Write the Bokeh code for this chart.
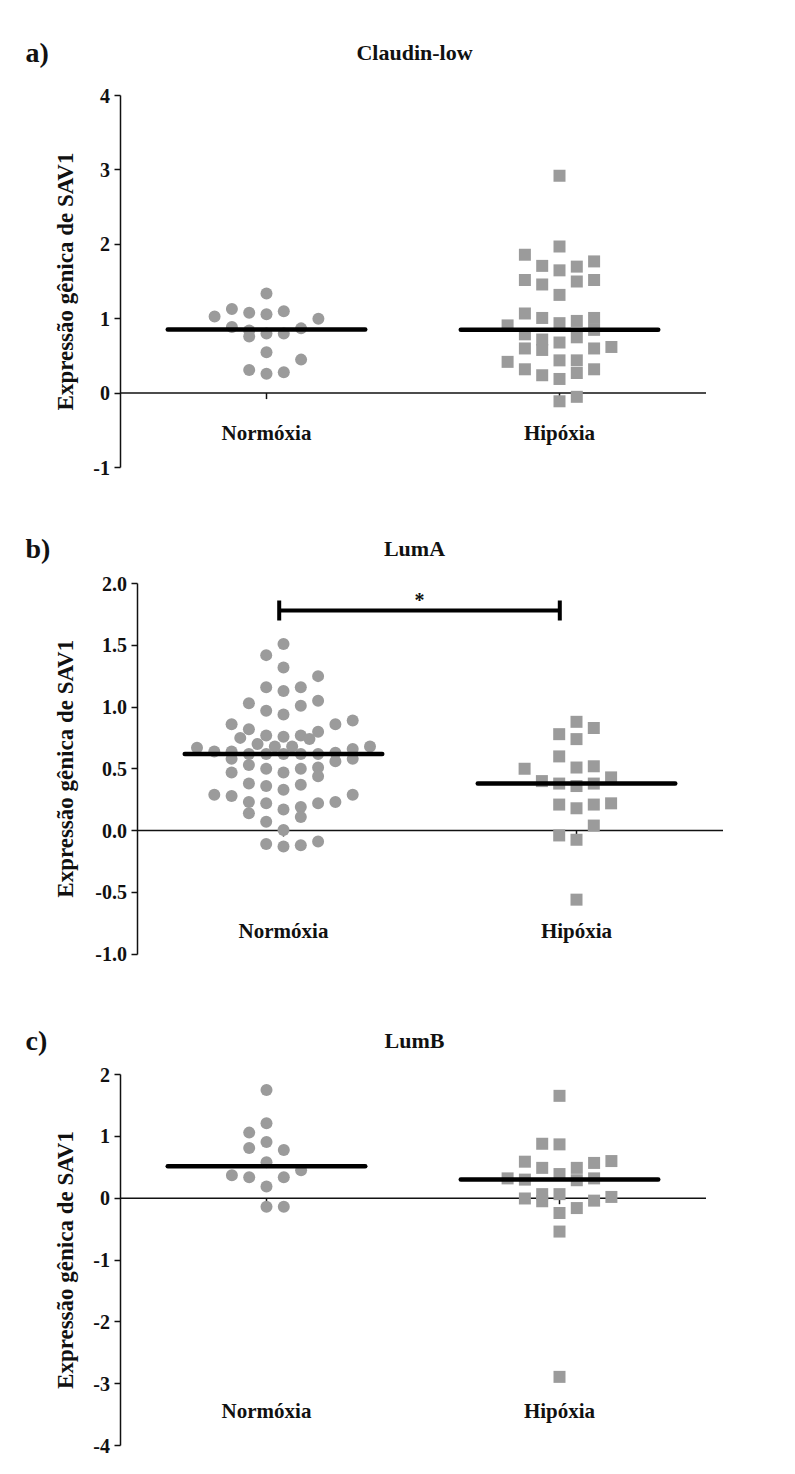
import numpy as np
from bokeh.plotting import figure
from bokeh.models import Range1d, FixedTicker, LinearAxis, NumeralTickFormatter
from bokeh.layouts import column
from bokeh.embed import file_html
from bokeh.resources import INLINE
from bokeh.core.properties import value

# ---------------- data ----------------
categories = ["Normóxia", "Hipóxia"]
y_label = "Expressão gênica de SAV1"

# a) Claudin-low
cl_norm = [1.34, 1.03, 1.13, 1.08, 1.06, 1.10, 1.00, 0.89, 0.84, 0.76, 0.80, 0.80,
           0.87, 0.55, 0.45, 0.31, 0.26, 0.28]
cl_norm_slot = [0, -3, -2, -1, 0, 1, 3, -2, -1, -1, 0, 1, 2, 0, 2, -1, 0, 1]
cl_hip = [2.92, 1.97, 1.86, 1.71, 1.65, 1.70, 1.77, 1.52, 1.46, 1.50, 1.52, 1.32,
          1.07, 1.01, 0.94, 0.97, 0.75, 1.01, 0.85, 0.91, 0.79, 0.72, 0.58, 0.68,
          0.60, 0.60, 0.62, 0.42, 0.32, 0.24, 0.44, 0.19, 0.44, 0.27, 0.32, -0.11, -0.05]
cl_hip_slot = [0, 0, -2, -1, 0, 1, 2, -2, -1, 1, 2, 0, -2, -1, 0, 1, 1, 2, 2, -3,
               -2, -1, -1, 0, -2, 2, 3, -3, -2, -1, 0, 0, 1, 1, 2, 0, 1]
cl_ticks = [-1, 0, 1, 2, 3, 4]

# b) LumA
la_norm = [1.51, 1.42, 1.32, 1.25, 1.16, 1.13, 1.16, 1.03, 1.05, 1.01, 0.97, 0.94,
           0.86, 0.82, 0.86, 0.89, 0.75, 0.77, 0.76, 0.77, 0.74, 0.80, 0.70, 0.68,
           0.68, 0.67, 0.64, 0.68, 0.66, 0.64, 0.62, 0.62, 0.62, 0.62, 0.62, 0.63,
           0.58, 0.56, 0.58, 0.53, 0.47, 0.50, 0.47, 0.50, 0.51, 0.44, 0.38, 0.36,
           0.33, 0.37, 0.29, 0.28, 0.29, 0.23, 0.22, 0.22, 0.23, 0.17, 0.19, 0.14,
           0.11, 0.07, 0.005, -0.11, -0.13, -0.12, -0.09]
la_norm_slot = [0, -1, 0, 2, -1, 0, 1, -2, 2, 1, -1, 0, -3, -2, 3, 4, -2.5, -1, 0, 1,
                1.5, 2, -1.5, -0.5, 0.5, -5, -4, 5, 4, -3, -2, -1, 0, 1, 2, 3, -3, 3,
                4, -2, -3, -1, 0, 1, 2, 2, -2, -1, 0, 1, -4, -3, 4, -2, -1, 2, 3, 0,
                1, -2, 1, -1, 0, -1, 0, 1, 2]
la_hip = [0.88, 0.83, 0.78, 0.74, 0.60, 0.50, 0.51, 0.52, 0.40, 0.38, 0.36, 0.38,
          0.43, 0.21, 0.18, 0.21, 0.22, 0.04, -0.04, -0.075, -0.56]
la_hip_slot = [0, 1, -1, 0, -1, -3, 0, 1, -2, -1, 0, 1, 2, -1, 0, 1, 2, 1, -1, 0, 0]
la_ticks = [-1.0, -0.5, 0.0, 0.5, 1.0, 1.5, 2.0]
la_signif = "*"

# c) LumB
lb_norm = [1.75, 1.21, 1.06, 0.91, 0.81, 0.78, 0.58, 0.45, 0.37, 0.34, 0.34, 0.19,
           -0.14, -0.14]
lb_norm_slot = [0, 0, -1, 0, -1, 1, 0, 2, -2, -1, 1, 0, 0, 1]
lb_hip = [1.655, 0.88, 0.87, 0.59, 0.49, 0.49, 0.57, 0.60, 0.39, 0.32, 0.30, 0.29,
          0.32, 0.065, -0.05, 0.065, -0.005, -0.04, 0.02, -0.16, -0.24, -0.54, -2.89]
lb_hip_slot = [0, -1, 0, -2, -1, 1, 2, 3, 0, -3, -2, 1, 2, -1, -1, 0, -2, 2, 3, 1,
               0, 0, 0]
lb_ticks = [-4, -3, -2, -1, 0, 1, 2]

# ---------------- styling ----------------
FONT = value("Liberation Serif")
INK = "#111111"
POINT_COLOR = "#9b9b9b"
PAGE_W = 795
PX_PER_X = 293.0          # pixels per category step
SLOT_W = 17.3 / PX_PER_X  # horizontal spacing of swarm columns
MED_HALF = 0.337          # half-length of the median bar
X_AXIS_LO, X_AXIS_HI = 0.5, 2.5


def text(p, x, y, s, size, **kw):
    p.text(x=[x], y=[y], text=[s], text_font=FONT, text_font_style="bold",
           text_font_size=size, text_color=INK,
           text_align=kw.pop("align", "center"), text_baseline="middle", **kw)


def panel(letter, title, norm, norm_slot, hip, hip_slot, ticks, fmt, page_top,
          height, axis_top, axis_bottom, center_px, cat_px, title_px):
    ymin, ymax = min(ticks), max(ticks)
    ppu = (axis_bottom - axis_top) / (ymax - ymin)
    x_lo = 1 - center_px / PX_PER_X
    y_hi = ymax + (axis_top - page_top) / ppu
    y_lo = ymax - (page_top + height - axis_top) / ppu

    def py(page_y):
        return ymax + (axis_top - page_y) / ppu

    def px(page_x):
        return x_lo + page_x / PX_PER_X

    p = figure(width=PAGE_W, height=height,
               x_range=Range1d(x_lo, x_lo + PAGE_W / PX_PER_X),
               y_range=Range1d(y_lo, y_hi),
               output_backend="svg", toolbar_location=None,
               x_axis_location=None, y_axis_location=None, min_border=0,
               background_fill_color="white", border_fill_color="white",
               outline_line_color=None)
    p.grid.visible = False

    ax = LinearAxis(fixed_location=X_AXIS_LO, bounds=(ymin, ymax),
                    ticker=FixedTicker(ticks=ticks),
                    formatter=NumeralTickFormatter(format=fmt))
    ax.minor_tick_line_color = None
    ax.major_tick_in = 0
    ax.major_tick_out = 6
    ax.axis_line_width = 1.5
    ax.major_tick_line_width = 1.5
    ax.axis_line_color = INK
    ax.major_tick_line_color = INK
    ax.major_label_text_font = "Liberation Serif"
    ax.major_label_text_font_style = "bold"
    ax.major_label_text_font_size = "20px"
    ax.major_label_text_color = INK
    ax.major_label_standoff = 4
    p.add_layout(ax, "left")

    # rotated axis title, centred on the axis
    text(p, px(65), (ymin + ymax) / 2, y_label, "23px", angle=np.pi / 2)

    # zero baseline with category ticks
    tick_len = 6 / ppu
    p.segment(x0=[X_AXIS_LO], y0=[0], x1=[X_AXIS_HI], y1=[0],
              line_color=INK, line_width=1.5)
    p.segment(x0=[1, 2], y0=[0, 0], x1=[1, 2], y1=[-tick_len, -tick_len],
              line_color=INK, line_width=1.5)

    # points
    xn = 1 + np.array(norm_slot) * SLOT_W
    xh = 2 + np.array(hip_slot) * SLOT_W
    p.scatter(xn, norm, marker="circle", size=12, fill_color=POINT_COLOR,
              line_color=None)
    p.scatter(xh, hip, marker="square", size=12, fill_color=POINT_COLOR,
              line_color=None)

    # medians
    meds = [float(np.median(norm)), float(np.median(hip))]
    p.segment(x0=[1 - MED_HALF, 2 - MED_HALF], y0=meds,
              x1=[1 + MED_HALF, 2 + MED_HALF], y1=meds,
              line_color="black", line_width=4.5, line_cap="round")

    # category names
    cy = py(cat_px)
    p.text(x=[1, 2], y=[cy, cy], text=categories, text_font=FONT,
           text_font_style="bold", text_font_size="21px", text_color=INK,
           text_align="center", text_baseline="middle")

    # panel letter and title
    ty = py(title_px)
    text(p, px(25), ty, letter, "28px", align="left")
    text(p, px(414), ty, title, "22px")
    return p, ppu, py, px


pa, _, _, _ = panel("a)", "Claudin-low", cl_norm, cl_norm_slot, cl_hip, cl_hip_slot,
                    cl_ticks, "0", page_top=0, height=490, axis_top=95,
                    axis_bottom=467, center_px=266, cat_px=432, title_px=52)
pb, ppu_b, py_b, px_b = panel("b)", "LumA", la_norm, la_norm_slot, la_hip, la_hip_slot,
                              la_ticks, "0.0", page_top=490, height=495,
                              axis_top=583, axis_bottom=953.5, center_px=283,
                              cat_px=930, title_px=548)
pc, _, _, _ = panel("c)", "LumB", lb_norm, lb_norm_slot, lb_hip, lb_hip_slot,
                    lb_ticks, "0", page_top=985, height=489, axis_top=1074,
                    axis_bottom=1445, center_px=266, cat_px=1410, title_px=1040)

# significance bracket between groups (LumA)
br_y = py_b(610)
br_x0, br_x1 = px_b(278.7), px_b(559.3)
cap = 10 / ppu_b
pb.segment(x0=[br_x0, br_x0, br_x1], y0=[br_y, br_y - cap, br_y - cap],
           x1=[br_x1, br_x0, br_x1], y1=[br_y, br_y + cap, br_y + cap],
           line_color="black", line_width=4)
text(pb, (br_x0 + br_x1) / 2, py_b(599), la_signif, "20px")

layout = column(pa, pb, pc, spacing=0)
open("out.html", "w").write(file_html(layout, INLINE))
